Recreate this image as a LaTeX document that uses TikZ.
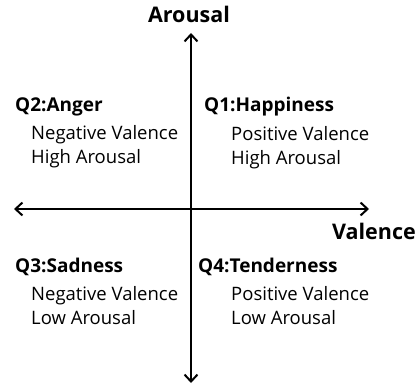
\documentclass[tikz,border=0pt]{standalone}
\usepackage{fontspec}
\setmainfont{Open Sans}
\usetikzlibrary{positioning, arrows.meta}

\tikzset{
  axislabel/.style={font=\fontsize{21.5}{24}\selectfont\bfseries},
  quadtitle/.style={anchor=west, inner sep=0pt, font=\fontsize{19}{22}\selectfont\bfseries},
  quadtext/.style={inner sep=0pt, align=left, font=\fontsize{18.5}{24}\selectfont},
}

\begin{document}
\begin{tikzpicture}[x=1pt, y=-1pt, >={Straight Barb[length=7pt, width=13pt]}]
  \useasboundingbox (0,0) rectangle (420,390);

  % Axes
  \coordinate (top) at (191,33);
  \coordinate (bottom) at (191,383);
  \coordinate (left) at (14,209);
  \coordinate (right) at (369,209);
  \draw[line width=2pt, <->] (bottom) -- (top);
  \draw[line width=2pt, <->] (left) -- (right);
  \node[axislabel] (arousal) at (189,14) {Arousal};
  \node[axislabel, anchor=east, inner sep=0pt] (valence) at (416,231) {Valence};

  % Upper quadrants
  \node[quadtitle] (q2) at (15,107) {Q2:Anger};
  \node[quadtext, below right=14pt and 16pt of q2.base west, anchor=north west] (q2text) {Negative Valence\\High Arousal};
  \node[quadtitle] (q1) at (204,107) {Q1:Happiness};
  \node[quadtext, below right=14pt and 27pt of q1.base west, anchor=north west] (q1text) {Positive Valence\\High Arousal};

  % Lower quadrants
  \node[quadtitle] (q3) at (15,267) {Q3:Sadness};
  \node[quadtext, below right=14pt and 16pt of q3.base west, anchor=north west] (q3text) {Negative Valence\\Low Arousal};
  \node[quadtitle] (q4) at (198,267) {Q4:Tenderness};
  \node[quadtext, below right=14pt and 33pt of q4.base west, anchor=north west] (q4text) {Positive Valence\\Low Arousal};

\end{tikzpicture}
\end{document}
